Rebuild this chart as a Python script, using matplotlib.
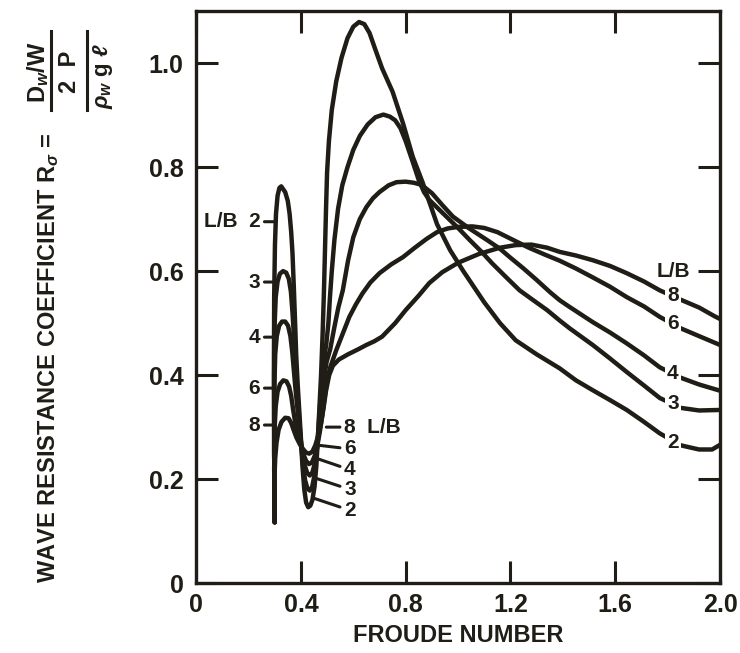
import matplotlib
matplotlib.use('Agg')
import matplotlib.pyplot as plt
from matplotlib.lines import Line2D

ink = '#1f1d16'

plt.rcParams['font.family'] = ['Liberation Sans', 'DejaVu Sans']
plt.rcParams['font.weight'] = 'bold'
plt.rcParams['mathtext.fontset'] = 'custom'
plt.rcParams['mathtext.rm'] = 'Liberation Sans:bold'
plt.rcParams['mathtext.it'] = 'Liberation Sans:bold:italic'
plt.rcParams['mathtext.bf'] = 'Liberation Sans:bold'
plt.rcParams['mathtext.sf'] = 'Liberation Sans:bold'

# ---- curves (Froude number, wave resistance coeff.) ----
fr_lb2 = [0.300, 0.298, 0.297, 0.298, 0.301, 0.305, 0.311, 0.318, 0.325, 0.333, 0.340, 0.350,
          0.357, 0.363, 0.368, 0.373, 0.378, 0.382, 0.388, 0.394, 0.400, 0.406, 0.413, 0.420,
          0.428, 0.436, 0.444, 0.452, 0.459, 0.465, 0.471, 0.477, 0.483, 0.488, 0.492, 0.496,
          0.500, 0.507, 0.518, 0.535, 0.555, 0.578, 0.600, 0.622, 0.642, 0.662, 0.685, 0.710,
          0.750, 0.790, 0.827, 0.865, 0.920, 0.970, 1.020, 1.100, 1.160, 1.220, 1.300, 1.388,
          1.450, 1.514, 1.580, 1.644, 1.710, 1.770, 1.850, 1.920, 1.970, 2.000]
r_lb2 = [0.117, 0.25, 0.40, 0.55, 0.65, 0.71, 0.745, 0.760, 0.763, 0.757, 0.752, 0.735,
         0.71, 0.675, 0.634, 0.57, 0.50, 0.44, 0.38, 0.33, 0.28, 0.225, 0.18, 0.155,
         0.146, 0.149, 0.16, 0.185, 0.225, 0.28, 0.34, 0.40, 0.48, 0.56, 0.64, 0.72,
         0.79, 0.85, 0.91, 0.965, 1.01, 1.048, 1.07, 1.079, 1.075, 1.058, 1.025, 0.99,
         0.945, 0.884, 0.82, 0.77, 0.69, 0.64, 0.60, 0.54, 0.50, 0.467, 0.44, 0.413,
         0.39, 0.371, 0.352, 0.333, 0.31, 0.288, 0.265, 0.257, 0.257, 0.266]

fr_lb3 = [0.300, 0.298, 0.298, 0.300, 0.304, 0.311, 0.320, 0.332, 0.344, 0.354, 0.362, 0.368,
          0.374, 0.380, 0.386, 0.393, 0.400, 0.408, 0.416, 0.425, 0.434, 0.443, 0.451, 0.459,
          0.466, 0.473, 0.480, 0.488, 0.497, 0.505, 0.511, 0.518, 0.528, 0.542, 0.558, 0.578,
          0.600, 0.625, 0.655, 0.685, 0.715, 0.740, 0.760, 0.780, 0.800, 0.827, 0.850, 0.870,
          0.890, 0.955, 1.000, 1.044, 1.090, 1.130, 1.180, 1.235, 1.290, 1.340, 1.388, 1.426,
          1.514, 1.580, 1.644, 1.710, 1.770, 1.850, 1.920, 2.000]
r_lb3 = [0.117, 0.25, 0.40, 0.50, 0.55, 0.58, 0.595, 0.600, 0.597, 0.585, 0.56, 0.52,
         0.47, 0.42, 0.37, 0.32, 0.27, 0.228, 0.198, 0.182, 0.178, 0.185, 0.205, 0.245,
         0.29, 0.34, 0.39, 0.43, 0.46, 0.50, 0.55, 0.60, 0.66, 0.72, 0.765, 0.80,
         0.833, 0.86, 0.882, 0.896, 0.901, 0.897, 0.89, 0.875, 0.85, 0.81, 0.775, 0.752,
         0.737, 0.705, 0.683, 0.66, 0.637, 0.615, 0.59, 0.563, 0.543, 0.525, 0.505, 0.49,
         0.458, 0.432, 0.406, 0.38, 0.356, 0.337, 0.332, 0.333]

fr_lb4 = [0.300, 0.298, 0.299, 0.302, 0.308, 0.317, 0.328, 0.340, 0.351, 0.360, 0.367, 0.373,
          0.380, 0.388, 0.396, 0.405, 0.414, 0.424, 0.434, 0.444, 0.453, 0.462, 0.470, 0.478,
          0.487, 0.498, 0.512, 0.527, 0.543, 0.560, 0.580, 0.600, 0.625, 0.650, 0.675, 0.700,
          0.735, 0.765, 0.800, 0.830, 0.853, 0.875, 0.900, 0.940, 0.980, 1.040, 1.110, 1.160,
          1.197, 1.250, 1.300, 1.350, 1.388, 1.426, 1.514, 1.580, 1.644, 1.710, 1.770, 1.850,
          1.920, 2.000]
r_lb4 = [0.117, 0.25, 0.38, 0.44, 0.475, 0.495, 0.503, 0.503, 0.495, 0.475, 0.445, 0.41,
         0.37, 0.33, 0.29, 0.255, 0.228, 0.212, 0.207, 0.213, 0.23, 0.26, 0.30, 0.345,
         0.39, 0.425, 0.45, 0.49, 0.53, 0.563, 0.62, 0.665, 0.70, 0.723, 0.74, 0.752,
         0.765, 0.771, 0.772, 0.77, 0.767, 0.76, 0.75, 0.727, 0.705, 0.683, 0.66, 0.643,
         0.627, 0.605, 0.583, 0.56, 0.544, 0.531, 0.502, 0.482, 0.461, 0.438, 0.415, 0.395,
         0.382, 0.37]

fr_lb6 = [0.300, 0.298, 0.300, 0.304, 0.311, 0.321, 0.333, 0.345, 0.355, 0.363, 0.370, 0.378,
          0.387, 0.397, 0.408, 0.420, 0.431, 0.442, 0.453, 0.463, 0.472, 0.481, 0.490, 0.500,
          0.512, 0.535, 0.560, 0.585, 0.610, 0.635, 0.665, 0.700, 0.745, 0.790, 0.835, 0.880,
          0.920, 0.960, 1.000, 1.055, 1.100, 1.150, 1.210, 1.270, 1.330, 1.388, 1.450, 1.514,
          1.580, 1.644, 1.710, 1.770, 1.850, 1.920, 2.000]
r_lb6 = [0.117, 0.22, 0.30, 0.34, 0.368, 0.383, 0.39, 0.388, 0.378, 0.36, 0.335, 0.31,
         0.29, 0.27, 0.25, 0.235, 0.229, 0.232, 0.245, 0.265, 0.29, 0.32, 0.355, 0.39,
         0.415, 0.448, 0.48, 0.512, 0.536, 0.557, 0.578, 0.596, 0.613, 0.627, 0.645, 0.662,
         0.675, 0.682, 0.685, 0.686, 0.683, 0.675, 0.66, 0.645, 0.632, 0.62, 0.605, 0.588,
         0.57, 0.55, 0.532, 0.512, 0.49, 0.475, 0.458]

fr_lb8 = [0.300, 0.299, 0.302, 0.307, 0.315, 0.326, 0.340, 0.353, 0.363, 0.372, 0.383, 0.395,
          0.408, 0.420, 0.432, 0.444, 0.455, 0.466, 0.476, 0.486, 0.496, 0.508, 0.522, 0.545,
          0.580, 0.620, 0.650, 0.680, 0.710, 0.760, 0.800, 0.850, 0.890, 0.940, 1.000, 1.080,
          1.160, 1.220, 1.280, 1.340, 1.388, 1.450, 1.514, 1.580, 1.644, 1.710, 1.770, 1.850,
          1.920, 1.980, 2.000]
r_lb8 = [0.117, 0.20, 0.24, 0.27, 0.295, 0.31, 0.318, 0.317, 0.308, 0.295, 0.28, 0.268,
         0.258, 0.251, 0.249, 0.253, 0.265, 0.283, 0.305, 0.335, 0.37, 0.40, 0.418, 0.43,
         0.44, 0.45, 0.458, 0.465, 0.474, 0.50, 0.525, 0.553, 0.577, 0.598, 0.616, 0.633,
         0.645, 0.65, 0.651, 0.645, 0.637, 0.63, 0.621, 0.61, 0.596, 0.58, 0.563, 0.545,
         0.53, 0.513, 0.508]

curve_names = ['2', '3', '4', '6', '8']

# label positions for the L/B tags
left_tag_y = [0.695, 0.579, 0.473, 0.375, 0.304]
trough_tag_y = [0.14, 0.18, 0.218, 0.258, 0.30]
trough_curve_pt = [(0.451, 0.163), (0.455, 0.202), (0.459, 0.24), (0.470, 0.265), (0.497, 0.30)]
right_tag_y = [0.271, 0.346, 0.404, 0.50, 0.554]

fig = plt.figure(figsize=(7.4, 6.53), dpi=100)
ax = fig.add_axes([0.265, 0.107, 0.708, 0.876])

curves = [(fr_lb2, r_lb2), (fr_lb3, r_lb3), (fr_lb4, r_lb4), (fr_lb6, r_lb6), (fr_lb8, r_lb8)]
for fr, r in curves:
    ax.plot(fr, r, color=ink, lw=3.2, solid_capstyle='round', solid_joinstyle='round', zorder=2)

ax.set_xlim(0, 2.0)
ax.set_ylim(0, 1.1)
ax.set_xticks([0, 0.4, 0.8, 1.2, 1.6, 2.0])
ax.set_xticklabels(['0', '0.4', '0.8', '1.2', '1.6', '2.0'])
ax.set_yticks([0, 0.2, 0.4, 0.6, 0.8, 1.0])
ax.set_yticklabels(['0', '0.2', '0.4', '0.6', '0.8', '1.0'])
ax.tick_params(direction='in', length=16, width=2.2, top=True, right=True,
               color=ink, labelcolor=ink, labelsize=18)
ax.tick_params(axis='x', pad=7)
ax.tick_params(axis='y', pad=9)
for s in ax.spines.values():
    s.set_linewidth(2.4)
    s.set_color(ink)

lead = dict(arrowstyle='-', lw=2.2, color=ink, shrinkA=1, shrinkB=0)

# tags on the left of the first hump
for i, name in enumerate(curve_names):
    txt = 'L/B  ' + name if i == 0 else name
    ax.annotate(txt, xy=(0.297, left_tag_y[i]), xytext=(0.245, left_tag_y[i]),
                ha='right', va='center', fontsize=15, color=ink, arrowprops=lead)

# tags to the right of the trough
for i, name in enumerate(curve_names):
    txt = name + '  L/B' if name == '8' else name
    ax.annotate(txt, xy=trough_curve_pt[i], xytext=(0.565, trough_tag_y[i]),
                ha='left', va='center', fontsize=15, color=ink, arrowprops=lead)

# tags at the right end
for i, name in enumerate(curve_names):
    ax.text(1.82, right_tag_y[i], name, ha='center', va='center', fontsize=15, color=ink,
            zorder=4, bbox=dict(boxstyle='square,pad=0.12', fc='white', ec='none'))
ax.text(1.885, 0.60, 'L/B', ha='right', va='center', fontsize=15, color=ink)

fig.text(458 / 740, 1 - 636 / 653, 'FROUDE NUMBER', ha='center', va='center',
         fontsize=17, color=ink)
fig.text(49 / 740, 1 - 583 / 653, r'WAVE RESISTANCE COEFFICIENT R$_{\sigma}$ =',
         rotation=90, ha='center', va='bottom', fontsize=17, color=ink)

# stacked fraction of the y label, written sideways
W, H = 740.0, 653.0
fig.text(38 / W, 1 - 72 / H, r'D$_w$/W', rotation=90, ha='center', va='center',
         fontsize=17, color=ink)
fig.text(69 / W, 1 - 72 / H, '2  P', rotation=90, ha='center', va='center',
         fontsize=17, color=ink)
fig.text(103 / W, 1 - 76 / H, r'$\rho_w$ g $\ell$', rotation=90, ha='center', va='center',
         fontsize=16, color=ink)
for bx in (51, 87):
    fig.add_artist(Line2D([bx / W, bx / W], [1 - 31 / H, 1 - 110 / H], color=ink, lw=2.2))

fig.savefig('out.png', dpi=100, facecolor='white')
